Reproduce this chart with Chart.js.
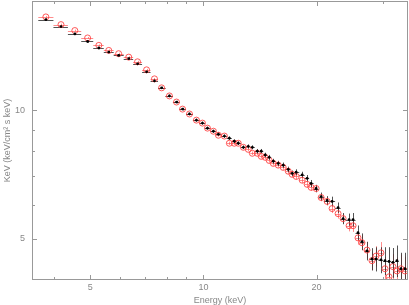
<!DOCTYPE html>
<html>
<head>
<meta charset="utf-8">
<script src="https://cdn.jsdelivr.net/npm/chart.js@4"></script>
<style>
  html, body { margin: 0; padding: 0; background: #fff; overflow: hidden; }
  #wrap { width: 409px; height: 305px; }
</style>
</head>
<body>
<div id="wrap"><canvas id="spec"></canvas></div>
<script>
// bin centres (keV)
var energy = [3.81, 4.18, 4.55, 4.92, 5.27, 5.60, 5.95, 6.33, 6.68, 7.06,
              7.41, 7.74, 8.12, 8.48, 8.80, 9.18, 9.58, 9.94, 10.25, 10.63,
              10.96, 11.37, 11.72, 12.08, 12.38, 12.77, 13.16, 13.49, 13.91, 14.25,
              14.60, 14.96, 15.34, 15.81, 16.30, 16.81, 17.22, 17.65, 18.31, 18.87,
              19.34, 19.94, 20.56, 21.33, 21.99, 22.81, 23.52, 24.40, 25.00, 25.77,
              26.41, 27.23, 28.07, 28.77, 29.66, 30.40, 31.16, 31.91, 32.71, 33.51, 34.35];

var blackFlux = [16.28, 15.68, 15.07, 14.47, 13.97, 13.67, 13.42, 13.20, 12.83, 12.29,
                 11.70, 11.27, 10.79, 10.44, 10.05, 9.79, 9.47, 9.32, 9.07, 8.92,
                 8.78, 8.69, 8.59, 8.45, 8.36, 8.18, 8.22, 8.18, 8.01, 8.01,
                 7.85, 7.75, 7.59, 7.50, 7.43, 7.26, 7.11, 7.15, 7.05, 6.92,
                 6.73, 6.55, 6.27, 6.14, 6.11, 5.91, 5.57, 5.54, 5.54, 5.16,
                 4.92, 4.68, 4.48, 4.48, 4.46, 4.44, 4.42, 4.40, 4.44, 4.25, 4.25];

var redFlux = [16.52, 15.85, 15.35, 14.75, 14.17, 13.79, 13.55, 13.30, 12.97, 12.42,
               11.83, 11.27, 10.79, 10.44, 10.05, 9.79, 9.47, 9.32, 9.07, 8.92,
               8.73, 8.69, 8.36, 8.36, 8.36, 8.18, 8.09, 7.92, 7.92, 7.79,
               7.75, 7.62, 7.50, 7.43, 7.34, 7.19, 7.07, 6.99, 6.85, 6.70,
               6.59, 6.55, 6.24, 6.11, 5.88, 5.72, 5.57, 5.36, 5.36, 5.02,
               4.89, 4.70, 4.44, 4.55, 4.63, 4.25, 4.07, 4.30, 4.20, 4.25, 4.20];

// relative 1-sigma errors on the flux
var blackErr = [0.006, 0.006, 0.006, 0.006, 0.006, 0.006, 0.006, 0.006, 0.006, 0.006,
                0.006, 0.006, 0.007, 0.007, 0.007, 0.007, 0.008, 0.008, 0.008, 0.008,
                0.009, 0.009, 0.01, 0.01, 0.01, 0.01, 0.011, 0.011, 0.012, 0.012,
                0.012, 0.013, 0.013, 0.014, 0.014, 0.015, 0.015, 0.016, 0.017, 0.018,
                0.019, 0.02, 0.022, 0.024, 0.026, 0.028, 0.03, 0.033, 0.036, 0.04,
                0.045, 0.05, 0.06, 0.065, 0.07, 0.075, 0.08, 0.08, 0.085, 0.09, 0.09];

var redErr = [0.005, 0.005, 0.005, 0.005, 0.005, 0.005, 0.005, 0.005, 0.005, 0.005,
              0.005, 0.005, 0.006, 0.006, 0.006, 0.006, 0.007, 0.007, 0.007, 0.007,
              0.008, 0.008, 0.009, 0.009, 0.009, 0.009, 0.01, 0.01, 0.011, 0.011,
              0.011, 0.012, 0.012, 0.013, 0.013, 0.014, 0.014, 0.015, 0.016, 0.017,
              0.018, 0.019, 0.02, 0.022, 0.024, 0.026, 0.028, 0.03, 0.033, 0.036,
              0.04, 0.045, 0.05, 0.055, 0.06, 0.065, 0.07, 0.07, 0.075, 0.08, 0.08];

var xTicks = [5, 10, 20];
var xMinor = [4, 6, 7, 8, 9, 30];
var yTicks = [5, 10];
var yMinor = [6, 7, 8, 9];

var axisGrey = '#999';
var textGrey = '#888';
var redLine = 'rgba(255,80,80,0.65)';
var blackLine = 'rgba(40,40,40,0.8)';

function points(flux) {
    return energy.map(function (e, i) { return { x: e, y: flux[i] }; });
}

function binEdges(i) {
    var e = energy[i];
    var lo = i > 0 ? Math.sqrt(energy[i - 1] * e) : null;
    var hi = i < energy.length - 1 ? Math.sqrt(energy[i + 1] * e) : null;
    if (lo === null) lo = e * e / hi;
    if (hi === null) hi = e * e / lo;
    return [lo, hi];
}

var errorBars = {
    id: 'errorBars',
    beforeDatasetsDraw: function (chart) {
        var ctx = chart.ctx, x = chart.scales.x, y = chart.scales.y, a = chart.chartArea;
        ctx.save();
        ctx.beginPath();
        ctx.rect(a.left, a.top, a.right - a.left, a.bottom - a.top);
        ctx.clip();
        ctx.lineWidth = 1;
        [[redFlux, redErr, redLine], [blackFlux, blackErr, blackLine]].forEach(function (s) {
            var flux = s[0], err = s[1];
            ctx.strokeStyle = s[2];
            energy.forEach(function (e, i) {
                var edges = binEdges(i);
                var px = x.getPixelForValue(e), py = y.getPixelForValue(flux[i]);
                ctx.beginPath();
                ctx.moveTo(x.getPixelForValue(edges[0]), Math.round(py) + 0.5);
                ctx.lineTo(x.getPixelForValue(edges[1]), Math.round(py) + 0.5);
                ctx.moveTo(Math.round(px) + 0.5, y.getPixelForValue(flux[i] * (1 - err[i])));
                ctx.lineTo(Math.round(px) + 0.5, y.getPixelForValue(flux[i] * (1 + err[i])));
                ctx.stroke();
            });
        });
        ctx.restore();
    }
};

var frameTicks = {
    id: 'frameTicks',
    afterDraw: function (chart) {
        var ctx = chart.ctx, x = chart.scales.x, y = chart.scales.y, a = chart.chartArea;
        ctx.save();
        ctx.strokeStyle = axisGrey;
        ctx.lineWidth = 1;
        ctx.strokeRect(Math.round(a.left) + 0.5, Math.round(a.top) + 0.5,
                       Math.round(a.right - a.left) - 1, Math.round(a.bottom - a.top) - 1);
        ctx.beginPath();
        function xt(v, len) {
            var p = Math.round(x.getPixelForValue(v)) + 0.5;
            ctx.moveTo(p, a.bottom); ctx.lineTo(p, a.bottom - len);
            ctx.moveTo(p, a.top); ctx.lineTo(p, a.top + len);
        }
        function yt(v, len) {
            var p = Math.round(y.getPixelForValue(v)) + 0.5;
            ctx.moveTo(a.left, p); ctx.lineTo(a.left + len, p);
            ctx.moveTo(a.right, p); ctx.lineTo(a.right - len, p);
        }
        xTicks.forEach(function (v) { xt(v, 5); });
        xMinor.forEach(function (v) { xt(v, 3); });
        yTicks.forEach(function (v) { yt(v, 5); });
        yMinor.forEach(function (v) { yt(v, 3); });
        ctx.stroke();
        ctx.restore();
    }
};

var font = { family: 'Liberation Sans', size: 9, lineHeight: 1 };

new Chart(document.getElementById('spec'), {
    type: 'scatter',
    data: {
        datasets: [{
            label: 'black',
            data: points(blackFlux),
            pointStyle: 'circle',
            pointRadius: 1.4,
            backgroundColor: '#000',
            borderColor: '#000',
            borderWidth: 0
        }, {
            label: 'red',
            data: points(redFlux),
            pointStyle: 'circle',
            pointRadius: 3,
            backgroundColor: 'rgba(255,255,255,0)',
            borderColor: 'rgba(255,60,60,0.85)',
            borderWidth: 1
        }]
    },
    options: {
        responsive: true,
        maintainAspectRatio: false,
        animation: false,
        layout: { autoPadding: false, padding: { left: 3.5, right: 1, top: 1, bottom: 0 } },
        plugins: { legend: { display: false }, tooltip: { enabled: false } },
        scales: {
            x: {
                type: 'logarithmic',
                min: 3.5,
                max: 35,
                afterBuildTicks: function (axis) {
                    axis.ticks = xTicks.map(function (v) { return { value: v }; });
                },
                afterFit: function (axis) {
                    axis.height = 25;
                    axis.paddingLeft = 0;
                    axis.paddingRight = 0;
                },
                ticks: {
                    font: font, color: textGrey, padding: 3, maxRotation: 0,
                    callback: function (v) { return String(v); }
                },
                grid: { display: false, drawTicks: false },
                border: { display: false },
                title: { display: true, text: 'Energy (keV)', font: font, color: textGrey,
                         padding: { top: 5, bottom: 0 } }
            },
            y: {
                type: 'logarithmic',
                min: 4,
                max: 18,
                afterBuildTicks: function (axis) {
                    axis.ticks = yTicks.map(function (v) { return { value: v }; });
                },
                afterFit: function (axis) {
                    axis.width = 28.5;
                    axis.paddingTop = 0;
                    axis.paddingBottom = 0;
                },
                ticks: {
                    font: font, color: textGrey, padding: 7,
                    callback: function (v) { return String(v); }
                },
                grid: { display: false, drawTicks: false },
                border: { display: false },
                title: { display: true, text: 'KeV (keV/cm² s keV)', font: font, color: textGrey,
                         padding: { top: 0, bottom: 2 } }
            }
        }
    },
    plugins: [errorBars, frameTicks]
});
</script>
</body>
</html>
